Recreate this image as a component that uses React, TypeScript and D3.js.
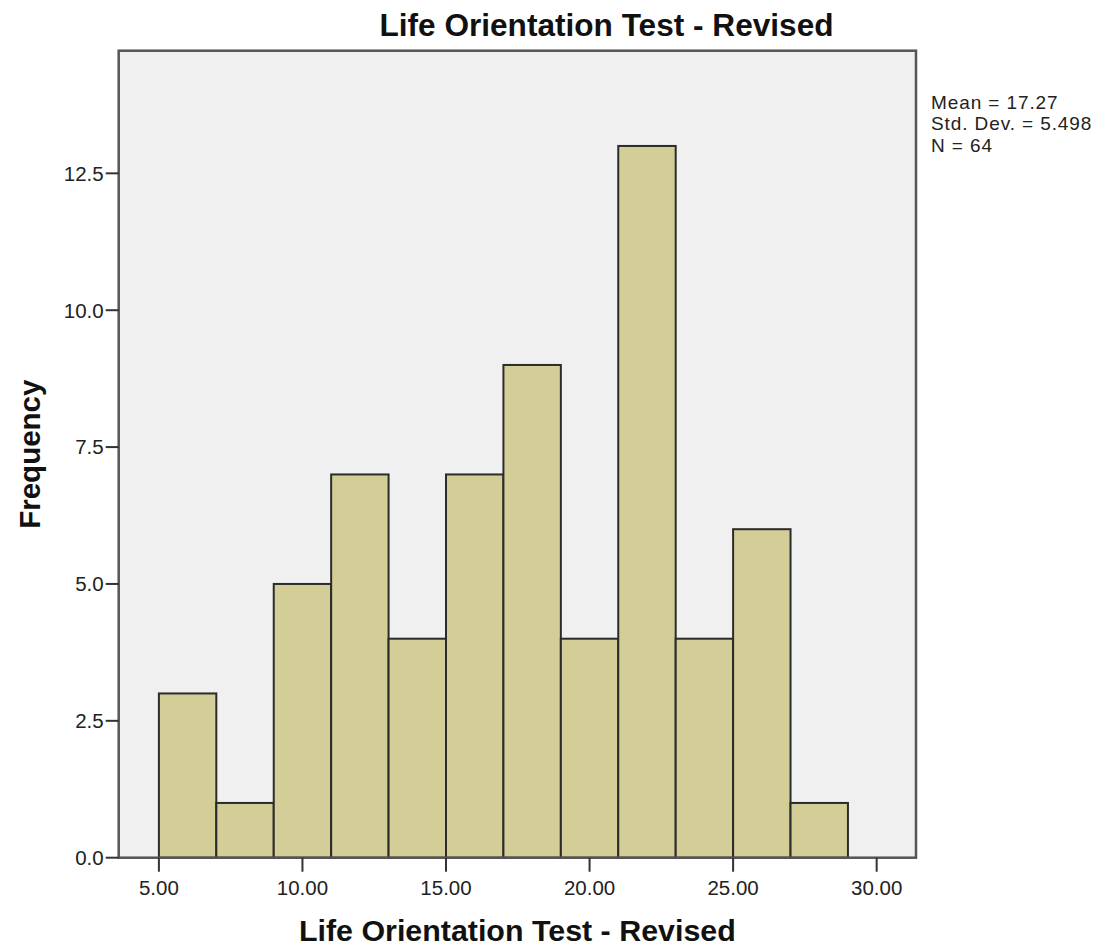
import React from "react";
import * as d3 from "d3";

const binStarts = [5, 7, 9, 11, 13, 15, 17, 19, 21, 23, 25, 27];
const binWidth = 2;
const frequencies = [3, 1, 5, 7, 4, 7, 9, 4, 13, 4, 6, 1];
const xTicks = [5, 10, 15, 20, 25, 30];
const yTicks = [0, 2.5, 5, 7.5, 10, 12.5];
const statsLines = ["Mean = 17.27", "Std. Dev. = 5.498", "N = 64"];
const title = "Life Orientation Test - Revised";
const xLabel = "Life Orientation Test - Revised";
const yLabel = "Frequency";

const W = 1101;
const H = 952;
const plot = { left: 118.7, right: 916, top: 50.7, bottom: 857.7 };

export default function App() {
  const x = d3.scaleLinear().domain([3.6, 31.37]).range([plot.left, plot.right]);
  const y = d3.scaleLinear().domain([0, 14.74]).range([plot.bottom, plot.top]);
  const font = "'Liberation Sans', Arial, sans-serif";
  return (
    <svg
      width={W}
      height={H}
      style={{ position: "absolute", left: 0, top: 0, background: "#fff" }}
      fontFamily={font}
    >
      <rect
        x={plot.left}
        y={plot.top}
        width={plot.right - plot.left}
        height={plot.bottom - plot.top}
        fill="#F0F0F0"
      />
      {binStarts.map((s, i) => (
        <rect
          key={i}
          x={x(s)}
          y={y(frequencies[i])}
          width={x(s + binWidth) - x(s)}
          height={y(0) - y(frequencies[i])}
          fill="#D3CE98"
          stroke="#2b2b2b"
          strokeWidth={2}
        />
      ))}
      <rect
        x={plot.left}
        y={plot.top}
        width={plot.right - plot.left}
        height={plot.bottom - plot.top}
        fill="none"
        stroke="#555"
        strokeWidth={2.5}
      />
      {yTicks.map((t) => (
        <g key={t}>
          <line x1={plot.left - 13} x2={plot.left} y1={y(t)} y2={y(t)} stroke="#333" strokeWidth={2} />
          <text x={plot.left - 15} y={y(t)} dy="0.36em" textAnchor="end" fontSize={20.5} fill="#222">
            {t.toFixed(1)}
          </text>
        </g>
      ))}
      {xTicks.map((t) => (
        <g key={t}>
          <line x1={x(t)} x2={x(t)} y1={plot.bottom} y2={plot.bottom + 14} stroke="#333" strokeWidth={2} />
          <text x={x(t)} y={895} textAnchor="middle" fontSize={20.5} fill="#222">
            {t.toFixed(2)}
          </text>
        </g>
      ))}
      <text x={606.5} y={35.5} textAnchor="middle" fontSize={31.6} fontWeight="bold" fill="#111">
        {title}
      </text>
      <text x={(plot.left + plot.right) / 2} y={940.5} textAnchor="middle" fontSize={30.4} fontWeight="bold" fill="#111">
        {xLabel}
      </text>
      <text
        transform={`translate(40,${(plot.top + plot.bottom) / 2}) rotate(-90)`}
        textAnchor="middle"
        fontSize={29.5}
        fontWeight="bold"
        fill="#111"
      >
        {yLabel}
      </text>
      {statsLines.map((s, i) => (
        <text key={i} x={931} y={109 + i * 21.4} fontSize={19} letterSpacing={0.9} fill="#222">
          {s}
        </text>
      ))}
    </svg>
  );
}
